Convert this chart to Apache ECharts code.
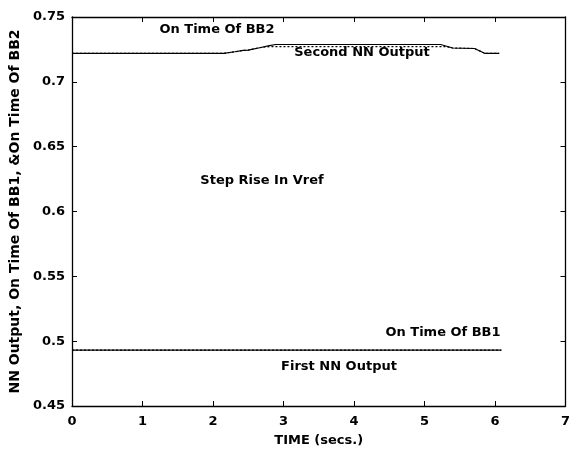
<!DOCTYPE html>
<html><head><meta charset="utf-8">
<script src="https://cdn.jsdelivr.net/npm/echarts@6/dist/echarts.min.js"></script>
<style>html,body{margin:0;padding:0;background:#fff}#c{width:573px;height:454px}</style>
</head><body><div id="c"></div>
<script>
// ---- data ----
const xTicks = [0, 1, 2, 3, 4, 5, 6, 7];
const yTicks = [0.45, 0.5, 0.55, 0.6, 0.65, 0.7, 0.75];

const timeBB2 = [0, 2.15, 2.31, 2.43, 2.5, 2.66, 2.8, 2.89, 5.08, 5.23, 5.4, 5.71, 5.86, 6.06];
const onTimeBB2 = [0.7219, 0.7219, 0.7232, 0.7242, 0.7245, 0.7263, 0.7279, 0.7288, 0.7288, 0.7288, 0.7261, 0.7257, 0.7219, 0.7219];

const timeNN2 = [0, 2.15, 2.31, 2.43, 2.5, 2.66, 2.8, 2.85, 5.1, 5.3, 5.4, 5.71, 5.86, 6.06];
const secondNN = [0.7219, 0.7219, 0.7232, 0.7242, 0.7245, 0.7263, 0.7272, 0.7272, 0.7272, 0.7272, 0.7261, 0.7257, 0.7219, 0.7219];

const timeBB1 = [0, 6.09];
const onTimeBB1 = [0.4931, 0.4931];
const timeNN1 = [0, 6.09];
const firstNN = [0.4931, 0.4931];

const annotations = [
  {text: 'On Time Of BB2', x: 217, y: 30},
  {text: 'Second NN Output', x: 362, y: 53},
  {text: 'Step Rise In Vref', x: 262, y: 181},
  {text: 'On Time Of BB1', x: 443, y: 333},
  {text: 'First NN Output', x: 339, y: 367}
];
// --------------------------------------

const zip = (a, b) => a.map((v, i) => [v, b[i]]);
const FONT = 'DejaVu Sans';
const txt = {color: '#000', fontFamily: FONT, fontSize: 13, fontWeight: 'bold'};

const chart = echarts.init(document.getElementById('c'), null, {renderer: 'canvas'});
const axisLine = {show: true, onZero: false, lineStyle: {color: '#000', width: 1.3}};
const axisTick = {show: true, inside: true, length: 5, lineStyle: {color: '#000', width: 1}};

chart.setOption({
  animation: false,
  backgroundColor: '#fff',
  grid: {left: 70, right: 4, top: 17, bottom: 48},
  xAxis: [{
    type: 'value', min: 0, max: 7, interval: 1,
    axisLine, axisTick, splitLine: {show: false},
    axisLabel: Object.assign({margin: 9, formatter: v => String(v)}, txt),
    name: 'TIME (secs.)', nameLocation: 'middle', nameGap: 28,
    nameTextStyle: txt
  }, {
    type: 'value', position: 'top', min: 0, max: 7, interval: 1,
    axisLine, axisTick, splitLine: {show: false}, axisLabel: {show: false}
  }],
  yAxis: [{
    type: 'value', min: 0.45, max: 0.75, interval: 0.05,
    axisLine, axisTick, splitLine: {show: false},
    axisLabel: Object.assign({margin: 7, formatter: v => String(parseFloat(v.toFixed(2)))}, txt),
    name: 'NN Output, On Time Of BB1, &On Time Of BB2', nameLocation: 'middle', nameGap: 50,
    nameTextStyle: Object.assign({}, txt, {fontSize: 14})
  }, {
    type: 'value', position: 'right', min: 0.45, max: 0.75, interval: 0.05,
    axisLine, axisTick, splitLine: {show: false}, axisLabel: {show: false}
  }],
  series: [
    {name: 'On Time Of BB2', type: 'line', data: zip(timeBB2, onTimeBB2), showSymbol: false,
     lineStyle: {color: '#000', width: 1.2}},
    {name: 'Second NN Output', type: 'line', data: zip(timeNN2, secondNN), showSymbol: false,
     lineStyle: {color: '#000', width: 1.2, type: [2, 2]}},
    {name: 'On Time Of BB1', type: 'line', data: zip(timeBB1, onTimeBB1), showSymbol: false,
     lineStyle: {color: '#000', width: 1.2}},
    {name: 'First NN Output', type: 'line', data: zip(timeNN1, firstNN), showSymbol: false,
     lineStyle: {color: '#000', width: 1.2, type: [2, 2]}}
  ],
  graphic: annotations.map(a => ({
    type: 'text', x: a.x, y: a.y,
    style: {text: a.text, align: 'center', verticalAlign: 'middle', fill: '#000',
      font: 'bold 13px "DejaVu Sans"'}
  }))
});
</script></body></html>
